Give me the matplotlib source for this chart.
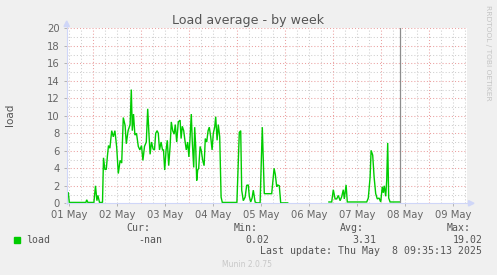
import numpy as np
import matplotlib
matplotlib.use('Agg')
import matplotlib.pyplot as plt
from matplotlib.patches import Polygon, Rectangle
from matplotlib.lines import Line2D

# ---- data (hours since 2025-05-01 00:00, load average) ----
hours = [10.9, 11.7, 12.2, 20.5, 20.9, 21.5, 24.5, 25.3, 26.0, 26.5, 27.3, 28.8,
         29.3, 30.0, 30.7, 31.3, 31.8, 32.5, 33.4, 34.2, 35.0, 35.9, 36.7, 37.6,
         38.4, 39.2, 40.1, 40.7, 41.6, 42.6, 43.2, 43.7, 44.3, 45.0, 45.8, 46.7,
         47.5, 48.3, 49.0, 49.8, 50.7, 51.4, 52.1, 52.6, 53.3, 54.1, 54.8, 55.4,
         56.1, 56.7, 57.3, 58.1, 58.8, 59.3, 59.9, 60.6, 61.2, 61.9, 62.6, 63.2,
         63.9, 64.6, 65.2, 65.9, 66.7, 67.6, 68.1, 68.7, 69.4, 70.0, 70.7, 71.4,
         72.0, 72.6, 73.2, 73.7, 74.4, 74.9, 75.4, 75.9, 76.4, 76.9, 77.6, 78.2,
         78.9, 79.6, 80.2, 80.9, 81.6, 82.2, 82.9, 83.6, 84.2, 84.9, 85.4, 86.1,
         86.7, 87.4, 88.1, 88.7, 96.0, 96.6, 97.2, 97.9, 98.4, 99.2, 100.1, 100.9,
         101.7, 102.2, 102.9, 103.6, 104.2, 105.1, 105.9, 107.6, 108.7, 109.7, 113.4,
         114.6, 115.2, 115.9, 116.4, 117.2, 117.9, 121.4, 121.8,
         142.0, 143.4, 144.2, 145.1, 145.9, 146.7, 147.6, 148.4, 149.2, 149.7, 150.6,
         151.2, 160.9, 161.7, 162.6, 163.1, 163.9, 164.6, 165.4, 166.2, 167.1, 167.9,
         168.7, 169.2, 169.7, 170.4, 170.9, 171.4, 171.9, 172.6, 177.2]
load = [1.25, 1.2, 0.1, 0.1, 0.4, 0.1, 0.1, 2.0, 0.3, 0.9, 0.1, 0.1,
        5.2, 3.85, 3.9, 5.5, 6.6, 6.3, 8.3, 7.6, 8.3, 6.4, 3.4, 4.9,
        4.6, 9.8, 8.9, 6.8, 8.3, 9.0, 13.0, 8.3, 10.2, 7.8, 8.0, 6.5,
        6.1, 6.6, 4.9, 6.5, 7.0, 10.8, 7.6, 5.6, 7.0, 6.2, 6.1, 8.0,
        8.3, 8.0, 6.1, 7.0, 6.1, 6.1, 3.8, 6.1, 7.2, 4.3, 6.5, 9.3,
        8.3, 7.9, 9.0, 7.0, 9.3, 9.5, 7.4, 8.8, 8.3, 7.2, 6.1, 7.0,
        5.3, 7.6, 10.2, 7.0, 4.1, 8.7, 6.5, 2.6, 3.8, 4.0, 6.5, 6.0,
        4.9, 4.3, 7.4, 7.0, 8.3, 8.7, 7.6, 6.1, 8.0, 8.7, 9.9, 7.2,
        9.0, 7.6, 0.7, 0.1, 0.1, 4.0, 8.1, 8.3, 1.5, 0.3, 0.7, 2.05,
        2.1, 0.8, 0.15, 0.6, 1.5, 0.15, 0.05, 0.05, 8.7, 1.1, 1.1,
        4.0, 3.3, 1.9, 2.1, 2.0, 0.05, 0.05, np.nan,
        0.15, 0.15, 1.55, 0.5, 0.5, 0.9, 0.3, 0.75, 1.55, 0.5, 2.1,
        0.15, 0.15, 0.6, 3.0, 6.05, 5.5, 3.0, 1.1, 0.5, 0.6, 0.15,
        1.9, 1.2, 2.0, 0.8, 2.6, 6.9, 0.6, 0.15, 0.15]

day_labels = ['01 May', '02 May', '03 May', '04 May', '05 May',
              '06 May', '07 May', '08 May', '09 May']
y_ticks = list(range(0, 21, 2))
now_hour = 177.5
stat_names = ['Cur:', 'Min:', 'Avg:', 'Max:']
stat_values = ['-nan', '0.02', '3.31', '19.02']
series_name = 'load'
title = 'Load average - by week'
last_update = 'Last update: Thu May  8 09:35:13 2025'

# ---- figure ----
W, H = 497, 275
fig = plt.figure(figsize=(W / 100, H / 100), dpi=100, facecolor='#F0F0F0')


def fx(x):
    return x / W


def fy(y):
    return 1 - y / H


x0, x1 = 66.7, 466.7
y0, y1 = 203.3, 28.3
ax = fig.add_axes([fx(x0), fy(y0), (x1 - x0) / W, (y0 - y1) / H])
ax.set_facecolor('white')
ax.set_xlim(10.9, 210.9)
ax.set_ylim(0, 20)
for s in ax.spines.values():
    s.set_visible(False)

grid_gray = '#CFCFCF'
grid_red = '#EBA0A0'
dots = (0, (1, 2))
for h in range(12, 211, 6):
    if h % 24 != 0:
        ax.axvline(h, color=grid_gray, lw=0.75, ls=dots, zorder=1)
for h in range(24, 211, 24):
    ax.axvline(h, color=grid_red, lw=0.75, ls=dots, zorder=1.5)
for v in range(1, 20, 2):
    ax.axhline(v, color=grid_gray, lw=0.75, ls=dots, zorder=1)
for v in range(2, 21, 2):
    ax.axhline(v, color=grid_red, lw=0.75, ls=dots, zorder=1.5)

ax.plot(hours, load, color='#00CC00', lw=1.0, zorder=3, solid_joinstyle='miter')
ax.axvline(now_hour, color='#8C8C8C', lw=0.9, zorder=4)

ax.set_yticks(y_ticks)
ax.set_yticklabels([str(v) for v in y_ticks])
ax.set_xticks([12 + 24 * i for i in range(len(day_labels))])
ax.set_xticklabels(day_labels)
ax.tick_params(axis='y', length=2, width=0.6, color='#AAAAAA', pad=3.2,
               labelsize=7.2, labelcolor='#666666')
ax.tick_params(axis='x', length=2, width=0.6, color='#AAAAAA', pad=2.5,
               labelsize=7.2, labelcolor='#666666')

# axis lines and arrows
axis_col = '#CFD6F8'
fig.add_artist(Line2D([fx(x0), fx(x0)], [fy(y0 + 1), fy(24)], color=axis_col, lw=0.8))
fig.add_artist(Line2D([fx(x0 - 1), fx(470)], [fy(y0), fy(y0)], color=axis_col, lw=0.8))
fig.add_artist(Polygon([[fx(x0 - 2.7), fy(26.5)], [fx(x0 + 2.7), fy(26.5)], [fx(x0), fy(21)]],
                       closed=True, color=axis_col, transform=fig.transFigure))
fig.add_artist(Polygon([[fx(468.5), fy(y0 - 2.7)], [fx(468.5), fy(y0 + 2.7)], [fx(474), fy(y0)]],
                       closed=True, color=axis_col, transform=fig.transFigure))

# texts
fig.text(fx(247.8), fy(24.3), title, ha='center', va='baseline', fontsize=9.1,
         color='#555555', family='DejaVu Sans')
fig.text(fx(10.5), fy(114.5), 'load', rotation=90, ha='center', va='center',
         fontsize=7.5, color='#555555', family='DejaVu Sans')
fig.text(fx(487.7), fy(5), 'RRDTOOL / TOBI OETIKER', rotation=270, ha='center', va='top',
         fontsize=5.4, color='#C4C4C4', family='DejaVu Sans')

mono = dict(family='DejaVu Sans Mono', fontsize=7.1, color='#555555')
fig.add_artist(Rectangle((fx(14), fy(242.7)), 6 / W, 6 / H, color='#00CC00',
                         transform=fig.transFigure))
fig.text(fx(26.5), fy(242.7), series_name, ha='left', va='baseline', **mono)
name_right = [150.5, 257.5, 364.0, 470.5]
val_right = [162.5, 269.5, 376.5, 482.5]
for n, v, xr, xv in zip(stat_names, stat_values, name_right, val_right):
    fig.text(fx(xr), fy(231), n, ha='right', va='baseline', **mono)
    fig.text(fx(xv), fy(242.7), v, ha='right', va='baseline', **mono)
fig.text(fx(482.5), fy(254.3), last_update, ha='right', va='baseline', **mono)
fig.text(fx(247.5), fy(266.7), 'Munin 2.0.75', ha='center', va='baseline',
         fontsize=5.5, color='#C8C8C8', family='DejaVu Sans')

fig.savefig('out.png', dpi=100, facecolor=fig.get_facecolor())
